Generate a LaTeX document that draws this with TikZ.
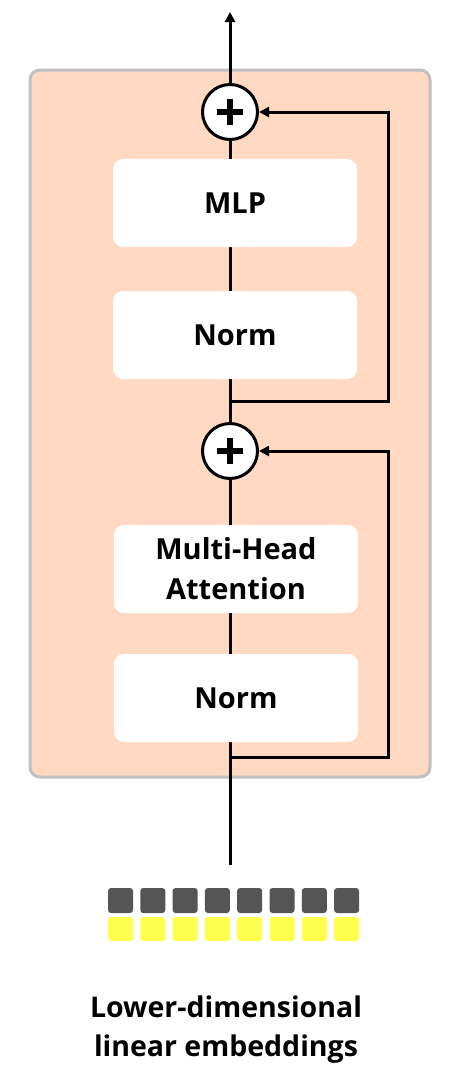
\documentclass[tikz,border=0pt]{standalone}
\usepackage{fontspec}
\setmainfont{Open Sans}
\usetikzlibrary{arrows.meta}
\definecolor{panel}{HTML}{FFD9C2}
\definecolor{panelborder}{HTML}{C0C0C0}
\definecolor{tokdark}{HTML}{555555}
\definecolor{tokyellow}{HTML}{FFFF4D}
\begin{document}
\begin{tikzpicture}[x=1pt,y=-1pt,
  blockbox/.style={draw=none,fill=white,rounded corners=10pt,minimum width=244pt,minimum height=88pt,font=\fontsize{29}{40}\selectfont\bfseries,align=center,inner sep=0pt},
  addnode/.style={circle,draw=black,line width=3pt,fill=white,minimum size=55pt,inner sep=0pt},
  conn/.style={line width=3pt,draw=black},
  arr/.style={conn,-{Triangle[length=10pt,width=10pt]}},
  tokd/.style={fill=tokdark,rounded corners=3pt},
  toky/.style={fill=tokyellow,rounded corners=3pt}]
\useasboundingbox (0,0) rectangle (457,1080);
\fill[white] (0,0) rectangle (457,1080);
% panel
\draw[panelborder,line width=3pt,fill=panel,rounded corners=10pt] (30,70) rectangle (430,777);
% coordinates
\coordinate (c1) at (230,112);
\coordinate (c2) at (230,451);
\coordinate (top) at (230,12);
\coordinate (bottom) at (230,865);
\coordinate (s1) at (230,401);
\coordinate (s1r) at (388,401);
\coordinate (s1t) at (388,112);
\coordinate (s2) at (230,757);
\coordinate (s2r) at (388,757);
\coordinate (s2t) at (388,451);
% main line (behind blocks)
\draw[conn] (c1) -- (c2) -- (bottom);
% blocks
\node[blockbox] (mlp) at (235,203) {MLP};
\node[blockbox] (norm1) at (235,335) {Norm};
\node[blockbox] (mha) at (236,569) {Multi-Head\\Attention};
\node[blockbox] (norm2) at (236,698) {Norm};
% add nodes
\node[addnode] (add1) at (c1) {};
\node[addnode] (add2) at (c2) {};
\foreach \n in {add1,add2}{
  \draw[line width=5.5pt] ([xshift=-13pt]\n.center) -- ([xshift=13pt]\n.center);
  \draw[line width=5.5pt] ([yshift=-13pt]\n.center) -- ([yshift=13pt]\n.center);
}
\draw[arr] (add1.north) -- (top);
% skips
\draw[arr] (s1) -- (s1r) -- (s1t) -- (add1.east);
\draw[arr] (s2) -- (s2r) -- (s2t) -- (add2.east);
% tokens
\foreach \i in {0,...,7}{
  \fill[tokd] (108+32.3*\i,888) rectangle ++(25,25);
  \fill[toky] (108+32.3*\i,917) rectangle ++(25,24);
}
\node[font=\fontsize{28.5}{39}\selectfont\bfseries,align=center,inner sep=0pt] (cap) at (226,1030) {Lower-dimensional\\linear embeddings};
\end{tikzpicture}
\end{document}
